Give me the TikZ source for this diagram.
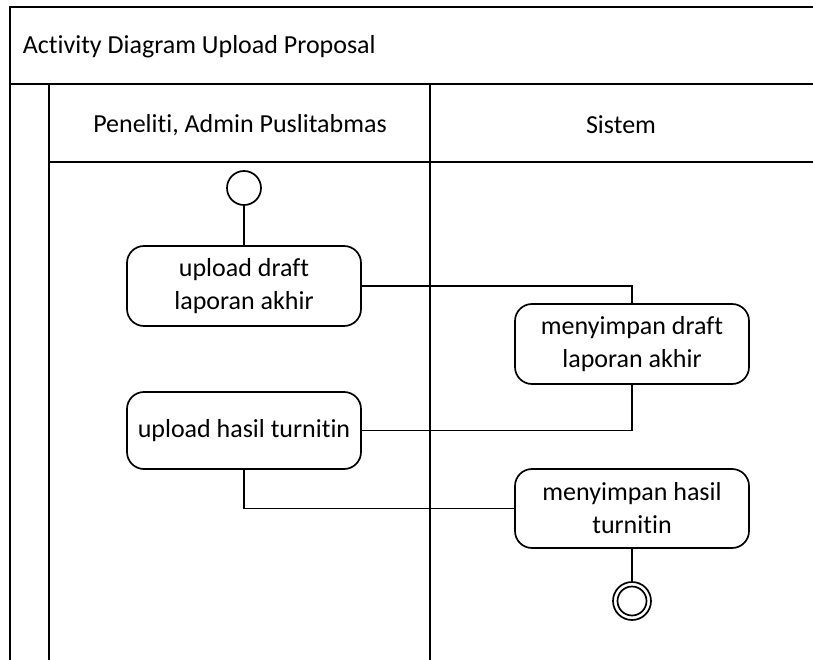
\documentclass[tikz,border=0pt]{standalone}
\usepackage{fontspec}
\setmainfont{Carlito}[Ligatures=NoCommon]
\begin{document}
\begin{tikzpicture}[x=1pt,y=-1pt,
  line width=1.7pt,
  lbl/.style={font=\fontsize{26}{33}\selectfont, inner sep=0pt},
  act/.style={draw, rectangle, rounded corners=17pt, minimum width=234pt,
    minimum height=80pt, align=center, inner sep=2pt,
    font=\fontsize{26}{33}\selectfont},
  startnode/.style={draw, circle, minimum size=34pt, inner sep=0pt},
  endnode/.style={draw, circle, minimum size=38pt, inner sep=0pt},
  flow/.style={draw, line width=1.7pt}]
  \useasboundingbox (0,0) rectangle (813,660);
  \fill[white] (0,0) rectangle (813,660);
  \clip (0,0) rectangle (813,660);

  % pool frame and swimlanes
  \draw (820,7) -- (10,7) -- (10,670);
  \draw (10,84) -- (820,84);
  \draw (49,84) -- (49,670);
  \draw (49,162) -- (820,162);
  \draw (430,84) -- (430,670);

  % headings
  \node[lbl, anchor=west] (title) at (22,47) {Activity Diagram Upload Proposal};
  \node[lbl] (lane1) at (240,125) {Peneliti, Admin Puslitabmas};
  \node[lbl] (lane2) at (621,125) {Sistem};

  % activities
  \node[startnode] (start) at (244,188) {};
  \node[act] (a1) at (244,286) {upload draft\\laporan akhir};
  \node[act] (a2) at (632,344) {menyimpan draft\\laporan akhir};
  \node[act, minimum height=77pt] (a3) at (244,430.5) {upload hasil turnitin};
  \node[act, minimum height=79pt] (a4) at (632,508.5) {menyimpan hasil\\turnitin};
  \node[endnode] (final) at (632,601) {};
  \draw (final.center) circle (14.5pt);

  % control flows
  \draw[flow] (start) -- (a1);
  \draw[flow] (a1.east) -| (a2.north);
  \draw[flow] (a2.south) |- (a3.east);
  \draw[flow] (a3.south) |- (a4.west);
  \draw[flow] (a4.south) -- (final.north);
\end{tikzpicture}
\end{document}
